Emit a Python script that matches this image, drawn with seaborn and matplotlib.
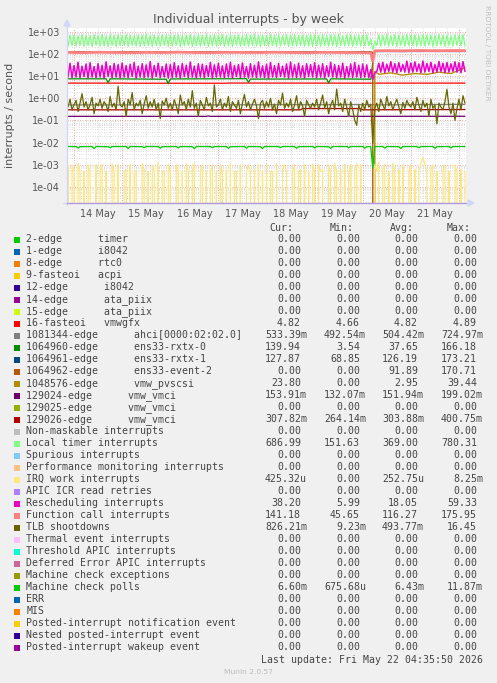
import matplotlib
matplotlib.use("Agg")
import matplotlib.pyplot as plt
import matplotlib.dates as mdates
from matplotlib.patches import Rectangle, Polygon
from matplotlib.ticker import FixedLocator, FuncFormatter, NullLocator
import numpy as np
import pandas as pd
import seaborn as sns

W, H, DPI = 497, 683, 100
START = pd.Timestamp("2026-05-13 20:00")   # first hourly sample

# ------------------------------------------------------------------
# Hourly series: 4 values on 13 May, one row per day, 4 on 22 May
# ------------------------------------------------------------------
local_timer = [
    640, 215, 720, 230,
    700, 225, 660, 240, 750, 220, 690, 235, 670, 210, 730, 245, 680, 225, 760, 230, 650, 220, 710, 240, 690, 215, 740, 230,
    680, 235, 750, 220, 700, 240, 660, 225, 730, 215, 690, 230, 770, 240, 680, 220, 720, 235, 650, 225, 740, 240, 700, 220,
    730, 225, 690, 245, 750, 215, 670, 230, 710, 240, 740, 220, 660, 235, 750, 225, 700, 240, 730, 215, 680, 230, 760, 225,
    700, 240, 740, 220, 670, 230, 750, 215, 690, 245, 720, 225, 660, 235, 740, 220, 710, 240, 750, 230, 690, 215, 730, 235,
    670, 225, 750, 240, 700, 220, 740, 230, 660, 245, 730, 215, 710, 235, 760, 225, 680, 240, 720, 220, 700, 230, 750, 215,
    740, 235, 690, 220, 750, 240, 660, 225, 730, 230, 700, 215, 770, 240, 680, 225, 710, 235, 740, 220, 670, 240, 720, 230,
    700, 225, 750, 235, 470, 155, 380, 240, 730, 220, 690, 245, 750, 225, 670, 235, 740, 215, 710, 240, 680, 225, 760, 230,
    710, 240, 740, 220, 670, 235, 750, 225, 700, 240, 730, 215, 690, 230, 760, 245, 680, 220, 720, 235, 650, 225, 740, 240,
    710, 230, 750, 225,
]

rescheduling = [
    32, 9, 38, 8.5,
    30, 9, 42, 8.5, 28, 9.5, 35, 8, 40, 9, 27, 8.5, 36, 9, 31, 8, 44, 9.5, 29, 8.5, 37, 9, 33, 8,
    39, 9, 30, 8.5, 34, 9.5, 41, 8, 28, 9, 36, 8.5, 32, 9, 45, 8, 30, 9.5, 38, 8.5, 27, 9, 35, 8,
    33, 8.5, 40, 9, 29, 8, 37, 9.5, 31, 8.5, 43, 9, 28, 8, 36, 9, 34, 8.5, 30, 9.5, 41, 8, 32, 9,
    38, 9, 29, 8.5, 35, 9, 42, 8, 30, 9.5, 33, 8.5, 39, 9, 27, 8, 36, 9, 31, 8.5, 44, 9, 29, 8.5,
    34, 8, 41, 9, 30, 8.5, 37, 9.5, 28, 9, 35, 8, 43, 9, 32, 8.5, 38, 9, 29, 8, 36, 9.5, 33, 9,
    40, 8.5, 31, 9, 36, 8, 29, 9.5, 42, 9, 33, 8.5, 30, 9, 38, 8, 27, 9, 35, 8.5, 41, 9, 31, 8.5,
    35, 9, 32, 8.5, 20, 7, 14, 16, 38, 15, 42, 14, 34, 16, 45, 15, 36, 14, 40, 16, 33, 15, 47, 14,
    39, 15, 44, 16, 35, 14, 48, 15, 37, 16, 42, 14, 33, 15, 46, 16, 38, 14, 41, 15, 36, 16, 44, 15,
    40, 14, 45, 16,
]

tlb_shootdowns = [
    0.6, 0.4, 0.9, 0.3,
    0.5, 0.8, 0.25, 0.6, 1.6, 0.4, 0.7, 0.3, 0.5, 1.1, 0.2, 0.6, 0.45, 0.9, 0.35, 0.7, 0.5, 0.25, 1.2, 0.4, 0.6, 0.3, 3.5, 0.5,
    0.4, 0.7, 0.15, 0.9, 0.5, 1.8, 0.3, 0.6, 0.45, 0.8, 0.2, 0.55, 1.3, 0.35, 0.7, 0.4, 0.9, 0.3, 0.6, 0.12, 0.75, 0.5, 1.0, 0.35,
    0.6, 0.3, 0.85, 0.45, 0.2, 1.4, 0.5, 0.7, 0.3, 0.9, 0.4, 2.2, 0.35, 0.6, 0.15, 0.8, 0.5, 0.3, 1.1, 0.45, 0.6, 0.25, 4.0, 0.4,
    0.5, 0.9, 0.3, 0.6, 0.4, 1.2, 0.25, 0.7, 0.5, 0.35, 0.8, 0.2, 0.6, 1.5, 0.4, 0.7, 0.3, 0.55, 0.9, 0.45, 0.12, 0.6, 0.8, 0.35,
    0.7, 0.4, 1.0, 0.3, 0.55, 0.2, 0.8, 0.5, 1.7, 0.35, 0.6, 0.4, 0.9, 0.25, 0.5, 1.3, 0.3, 0.7, 0.45, 0.15, 0.8, 0.5, 0.35, 0.6,
    0.4, 0.9, 0.3, 0.6, 1.4, 0.35, 0.7, 0.2, 0.5, 0.8, 0.3, 2.6, 0.45, 0.6, 0.25, 0.9, 0.4, 0.15, 0.7, 0.3, 0.1, 0.06, 0.5, 0.25,
    0.6, 0.3, 0.8, 0.4, 0.5, 0.0092, 0.35, 0.6, 0.25, 0.9, 0.5, 0.3, 1.2, 0.45, 0.7, 0.3, 0.55, 0.9, 0.4, 0.2, 0.65, 0.35, 0.8, 0.5,
    0.4, 0.7, 0.3, 1.1, 0.5, 0.25, 0.8, 0.4, 0.6, 0.15, 0.9, 0.35, 0.5, 0.07, 0.6, 0.4, 0.3, 0.7, 2.5, 0.4, 0.2, 0.6, 0.1, 0.35,
    0.9, 0.3, 1.3, 0.6,
]

irq_work_milli = [
    0, 0.8, 0, 1.0,
    0.5, 0, 1.1, 0.5, 0, 0.5, 0, 1.0, 0.5, 0, 0, 1.0, 0, 0.5, 1.0, 0, 0.5, 0, 0, 1.1, 0.5, 0, 1.0, 0,
    0, 0.5, 0.6, 0, 1.0, 0, 0.5, 0.5, 0, 0, 1.1, 0.6, 0, 0.5, 0, 1.0, 0.5, 0, 1.2, 0, 0.5, 0.5, 0, 1.0,
    0.5, 0, 0, 1.0, 0.6, 0, 0.5, 0, 1.1, 0.5, 0, 0.5, 1.2, 0, 0, 0.6, 1.0, 0, 0.5, 0, 0.5, 1.0, 0, 0.5,
    0, 1.0, 0.5, 0, 0.6, 0, 1.1, 0, 0.5, 0.5, 0, 1.0, 0, 0, 0.5, 1.0, 0.5, 0, 0.6, 0, 1.0, 0, 0.5, 0,
    1.0, 0, 0.5, 0.5, 0, 1.1, 0, 0, 0.6, 1.0, 0.5, 0, 0, 0.5, 1.0, 0, 0.5, 0.6, 0, 1.0, 0, 0.5, 0, 1.1,
    0.5, 0, 1.0, 0.5, 0.6, 0, 0, 1.0, 0.5, 0, 1.1, 0.5, 0, 0.6, 0, 1.0, 0, 0.5, 1.0, 0, 0.6, 1.1, 0, 1.0,
    0, 0, 0, 0, 0, 0, 1.0, 0.5, 1.3, 0, 0.6, 1.0, 0, 0.5, 0, 1.2, 0.5, 0, 0.6, 0, 1.0, 0, 0, 0.5,
    1.0, 0, 0.6, 0, 0.5, 1.1, 2.2, 1.0, 0.5, 0, 0.6, 1.0, 0, 0.5, 0, 0, 0.6, 1.0, 0, 0.5, 0, 0, 1.0, 0.5,
    0, 0.6, 0, 0.5,
]

# ------------------------------------------------------------------
# Slowly changing series: hours after START and the value there
# ------------------------------------------------------------------
vmwgfx_hours = [0, 30, 31, 80, 81, 140, 199]
vmwgfx = [4.82, 4.82, 4.75, 4.75, 4.85, 4.80, 4.82]

ahci_hours = [0, 60, 110, 153, 154, 199]
ahci = [0.50, 0.50, 0.51, 0.52, 0.50, 0.53]

rxtx0_hours = [0, 20, 21, 22, 50, 51, 52, 90, 91, 92, 130, 131, 132, 152, 153, 154, 170, 199]
rxtx0 = [7.5, 7.5, 5.0, 7.5, 7.2, 4.5, 7.4, 7.6, 5.2, 7.3, 7.4, 4.8, 7.5, 7.2, 40, 135, 142, 140]

rxtx1_hours = [0, 40, 80, 120, 152, 153, 154, 180, 199]
rxtx1 = [126, 124, 127, 125, 126, 69, 128, 129, 128]

event2_hours = [0, 50, 100, 152, 153, 154, 199]
event2 = [121, 123, 120, 122, 118, 0, 0]

pvscsi_hours = [0, 153, 154, 156, 162, 168, 174, 180, 186, 192, 199]
pvscsi = [0, 0, 16, 12, 14, 11, 13, 12, 15, 13, 23.8]

vmci24_hours = [0, 70, 71, 72, 140, 141, 142, 199]
vmci24 = [0.152, 0.152, 0.158, 0.152, 0.151, 0.160, 0.152, 0.153]

vmci26_hours = [0, 117, 118, 147, 148, 199]
vmci26 = [0.30, 0.30, 0.34, 0.34, 0.30, 0.31]

fcall_hours = [0, 8, 16, 24, 32, 40, 48, 56, 64, 72, 80, 88, 96, 104, 112, 120, 128, 136, 144, 152,
               153, 154, 160, 168, 176, 184, 192, 199]
fcall = [117, 114, 119, 116, 113, 118, 115, 120, 116, 114, 118, 117, 115, 119, 116, 113, 118, 116, 115, 112,
         46, 138, 141, 137, 143, 139, 142, 141]

mcp_hours = [0, 5, 6, 7, 13, 14, 15, 21, 22, 23, 30, 31, 32, 38, 39, 40, 46, 47, 48, 55, 56, 57,
             63, 64, 65, 72, 73, 74, 80, 81, 82, 89, 90, 91, 97, 98, 99, 106, 107, 108, 114, 115, 116,
             123, 124, 125, 131, 132, 133, 140, 141, 142, 148, 149, 150, 152, 153, 154, 158, 159, 160,
             166, 167, 168, 175, 176, 177, 183, 184, 185, 191, 192, 193, 199]
mcp_milli = [6.6, 6.6, 5.6, 6.5, 6.6, 5.3, 6.6, 6.5, 5.8, 6.6, 6.6, 5.4, 6.6, 6.5, 5.9, 6.6, 6.6, 5.5, 6.5,
             6.6, 5.7, 6.6, 6.5, 5.3, 6.6, 6.6, 5.8, 6.6, 6.6, 5.5, 6.5, 6.6, 5.6, 6.6, 6.5, 5.4, 6.6,
             6.6, 5.9, 6.6, 6.6, 5.5, 6.5, 6.6, 5.7, 6.6, 6.5, 5.4, 6.6, 6.6, 5.8, 6.6, 6.6, 5.5, 6.5,
             6.5, 0.68, 6.6, 6.6, 5.6, 6.6, 6.5, 5.4, 6.6, 6.6, 5.8, 6.6, 6.6, 5.5, 6.5, 6.6, 5.7, 6.6,
             6.6]

# ------------------------------------------------------------------
# Legend table
# ------------------------------------------------------------------
legend_labels = [
    "2-edge      timer", "1-edge      i8042", "8-edge      rtc0", "9-fasteoi   acpi",
    "12-edge      i8042", "14-edge      ata_piix", "15-edge      ata_piix", "16-fasteoi   vmwgfx",
    "1081344-edge      ahci[0000:02:02.0]", "1064960-edge      ens33-rxtx-0",
    "1064961-edge      ens33-rxtx-1", "1064962-edge      ens33-event-2",
    "1048576-edge      vmw_pvscsi", "129024-edge      vmw_vmci", "129025-edge      vmw_vmci",
    "129026-edge      vmw_vmci", "Non-maskable interrupts", "Local timer interrupts",
    "Spurious interrupts", "Performance monitoring interrupts", "IRQ work interrupts",
    "APIC ICR read retries", "Rescheduling interrupts", "Function call interrupts",
    "TLB shootdowns", "Thermal event interrupts", "Threshold APIC interrupts",
    "Deferred Error APIC interrupts", "Machine check exceptions", "Machine check polls",
    "ERR", "MIS", "Posted-interrupt notification event", "Nested posted-interrupt event",
    "Posted-interrupt wakeup event",
]
legend_colors = [
    "#00CC00", "#0066B3", "#FF8000", "#FFCC00", "#330099", "#990099", "#CCFF00", "#FF0000",
    "#808080", "#008F00", "#00487D", "#B35A00", "#B38F00", "#6B006B", "#8FB300", "#B30000",
    "#BEBEBE", "#80FF80", "#80C9FF", "#FFC080", "#FFE680", "#AA80FF", "#EE00CC", "#FF8080",
    "#666600", "#FFBFFF", "#00FFCC", "#CC6699", "#999900", "#00CC00", "#0066B3", "#FF8000",
    "#FFCC00", "#330099", "#990099",
]
Z = "0.00"
cur_vals = [Z, Z, Z, Z, Z, Z, Z, "4.82", "533.39m", "139.94", "127.87", Z, "23.80", "153.91m", Z,
            "307.82m", Z, "686.99", Z, Z, "425.32u", Z, "38.20", "141.18", "826.21m", Z, Z, Z, Z,
            "6.60m", Z, Z, Z, Z, Z]
min_vals = [Z, Z, Z, Z, Z, Z, Z, "4.66", "492.54m", "3.54", "68.85", Z, Z, "132.07m", Z,
            "264.14m", Z, "151.63", Z, Z, Z, Z, "5.99", "45.65", "9.23m", Z, Z, Z, Z,
            "675.68u", Z, Z, Z, Z, Z]
avg_vals = [Z, Z, Z, Z, Z, Z, Z, "4.82", "504.42m", "37.65", "126.19", "91.89", "2.95", "151.94m", Z,
            "303.88m", Z, "369.00", Z, Z, "252.75u", Z, "18.05", "116.27", "493.77m", Z, Z, Z, Z,
            "6.43m", Z, Z, Z, Z, Z]
max_vals = [Z, Z, Z, Z, Z, Z, Z, "4.89", "724.97m", "166.18", "173.21", "170.71", "39.44", "199.02m", Z,
            "400.75m", Z, "780.31", Z, Z, "8.25m", Z, "59.33", "175.95", "16.45", Z, Z, Z, Z,
            "11.87m", Z, Z, Z, Z, Z]

CHAR_W = 5.97   # width of one monospace character in pixels


def hourly(values):
    return pd.date_range(START, periods=len(values), freq="h")


def at_hours(hours):
    return START + pd.to_timedelta(hours, unit="h")


def main():
    sns.set_style("white")
    plt.rcParams["font.family"] = ["DejaVu Sans"]

    fig = plt.figure(figsize=(W / DPI, H / DPI), dpi=DPI, facecolor="#F0F0F0")
    ax = fig.add_axes([67 / W, 1 - 203 / H, (466 - 67) / W, (203 - 28) / H])
    ax.set_facecolor("white")

    # series in rrdtool drawing order (later ones on top)
    series = [
        (at_hours(vmwgfx_hours), vmwgfx, legend_colors[7], 0.9),
        (at_hours(ahci_hours), ahci, legend_colors[8], 0.9),
        (at_hours(rxtx0_hours), rxtx0, legend_colors[9], 0.9),
        (at_hours(rxtx1_hours), rxtx1, legend_colors[10], 0.9),
        (at_hours(event2_hours), event2, legend_colors[11], 1.0),
        (at_hours(pvscsi_hours), pvscsi, legend_colors[12], 1.0),
        (at_hours(vmci24_hours), vmci24, legend_colors[13], 0.9),
        (at_hours(vmci26_hours), vmci26, legend_colors[15], 0.9),
        (hourly(local_timer), local_timer, legend_colors[17], 0.9),
        (hourly(irq_work_milli), np.array(irq_work_milli) * 1e-3, legend_colors[20], 0.9),
        (hourly(rescheduling), rescheduling, legend_colors[22], 1.1),
        (at_hours(fcall_hours), fcall, legend_colors[23], 2.0),
        (hourly(tlb_shootdowns), tlb_shootdowns, legend_colors[24], 0.9),
        (at_hours(mcp_hours), np.array(mcp_milli) * 1e-3, legend_colors[29], 0.9),
    ]
    for i, (times, values, color, lw) in enumerate(series):
        df = pd.DataFrame({"time": times, "rate": values})
        sns.lineplot(data=df, x="time", y="rate", color=color, linewidth=lw,
                     estimator=None, errorbar=None, legend=False, ax=ax, zorder=3 + i)

    ax.set_yscale("log", nonpositive="clip")
    ax.set_ylim(10 ** -4.73, 10 ** 3.17)
    x0, x1 = pd.Timestamp("2026-05-13 20:30"), pd.Timestamp("2026-05-22 03:30")
    ax.set_xlim(x0, x1)

    # grid: gray dotted minor lines, red dotted major lines
    minor = dict(color="#CCCCCC", linewidth=0.55, linestyle=(0, (1, 2)), zorder=1)
    major = dict(color="#F09090", linewidth=0.6, linestyle=(0, (1, 2)), zorder=2)
    for e in range(-5, 4):
        for k in range(2, 10):
            ax.axhline(k * 10.0 ** e, **minor)
        ax.axhline(10.0 ** e, **major)
    for t in pd.date_range("2026-05-13 18:00", "2026-05-22 06:00", freq="6h"):
        if t.hour == 0:
            ax.axvline(t, **major)
        else:
            ax.axvline(t, **minor)

    ax.yaxis.set_major_locator(FixedLocator([10.0 ** e for e in range(-4, 4)]))
    ax.yaxis.set_minor_locator(NullLocator())
    ax.yaxis.set_major_formatter(FuncFormatter(lambda v, _: f"{v:.0e}"))
    noons = pd.date_range("2026-05-14 12:00", "2026-05-21 12:00", freq="D")
    ax.xaxis.set_major_locator(FixedLocator(mdates.date2num(noons.to_pydatetime())))
    ax.xaxis.set_minor_locator(NullLocator())
    ax.xaxis.set_major_formatter(mdates.DateFormatter("%-d %b"))
    ax.tick_params(axis="both", length=0, labelsize=7, colors="#555555")
    ax.tick_params(axis="y", pad=5)
    ax.tick_params(axis="x", pad=4)
    ax.set_xlabel("")
    ax.set_ylabel("")
    for s in ax.spines.values():
        s.set_visible(False)

    # overlay in pixel coordinates for axes arrows and legend
    ov = fig.add_axes([0, 0, 1, 1])
    ov.set_xlim(0, W)
    ov.set_ylim(H, 0)
    ov.axis("off")
    ov.patch.set_alpha(0)

    axis_col = "#CFD6F8"
    ov.plot([67, 67], [205, 24], color=axis_col, linewidth=0.9)
    ov.plot([63, 469], [203, 203], color=axis_col, linewidth=0.9)
    ov.plot([67, 466], [203, 203], color="#B496DC", linewidth=0.9)
    ov.add_patch(Polygon([(64, 26), (70, 26), (67, 20)], closed=True, color=axis_col))
    ov.add_patch(Polygon([(468, 200), (468, 206), (474, 203)], closed=True, color=axis_col))

    ov.text(248.5, 19, "Individual interrupts - by week", ha="center", va="center",
            fontsize=9, color="#555555")
    ov.text(10, 115, "interrupts / second", ha="center", va="center", rotation=90,
            fontsize=8, color="#555555")
    ov.text(487, 53, "RRDTOOL / TOBI OETIKER", ha="center", va="center", rotation=270,
            fontsize=5.4, color="#C0C0C0")

    mono = dict(family="DejaVu Sans Mono", fontsize=7.15, color="#444444", va="center")
    for x, head in zip([293.5, 353.5, 413.5, 470.5], ["Cur:", "Min:", "Avg:", "Max:"]):
        ov.text(x, 228.3, head, ha="right", **mono)

    col_right = [301, 360, 418, 477]
    for i, label in enumerate(legend_labels):
        y = 239.5 + 12.0 * i
        ov.add_patch(Rectangle((14, y - 3), 6, 6, facecolor=legend_colors[i], edgecolor="none"))
        ov.text(26.3, y, label, ha="left", **mono)
        for x, val in zip(col_right, [cur_vals[i], min_vals[i], avg_vals[i], max_vals[i]]):
            # unit suffix sits one character to the right of the number column
            right = x + CHAR_W if val[-1].isalpha() else x
            ov.text(right, y, val, ha="right", **mono)

    ov.text(483, 659.7, "Last update: Fri May 22 04:35:50 2026", ha="right", **mono)
    ov.text(248, 671.7, "Munin 2.0.57", ha="center", va="center", fontsize=5.4, color="#BBBBBB")

    fig.savefig("out.png", dpi=DPI, facecolor=fig.get_facecolor())


if __name__ == "__main__":
    main()
